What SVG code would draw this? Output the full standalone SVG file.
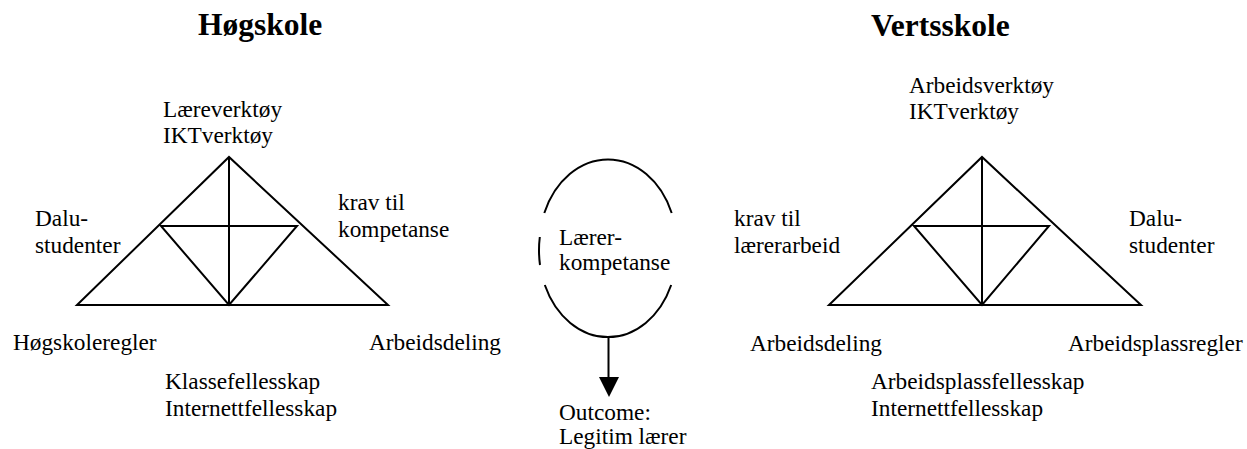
<svg xmlns="http://www.w3.org/2000/svg" width="1247" height="449" viewBox="0 0 1247 449">
<defs>
<style>
text{font-family:"Liberation Serif","Times New Roman",serif;font-size:23.3px;fill:#000}
.title{font-weight:bold;font-size:31.5px}
.ln{stroke:#000;stroke-width:2;fill:none}
</style>
</defs>
<rect width="1247" height="449" fill="#fff"/>
<g id="titles">
<text class="title" x="198" y="35">Høgskole</text>
<text class="title" x="871" y="36">Vertsskole</text>
</g>
<g id="triangle-left">
<path class="ln" d="M77,305 L229,157 L388,305 Z M229,157 L229,305 M161,226 L297,226 L229,305 Z"/>
</g>
<g id="triangle-right">
<path class="ln" d="M829,305 L982,157 L1141,305 Z M982,157 L982,305 M914,226 L1049,226 L982,305 Z"/>
</g>
<g id="labels-left">
<text x="163" y="117">Læreverktøy</text>
<text x="163" y="143">IKTverktøy</text>
<text x="35" y="226">Dalu-</text>
<text x="35" y="253">studenter</text>
<text x="338" y="210">krav til</text>
<text x="338" y="237">kompetanse</text>
<text x="13" y="350">Høgskoleregler</text>
<text x="369" y="350">Arbeidsdeling</text>
<text x="165" y="389">Klassefellesskap</text>
<text x="165" y="416">Internettfellesskap</text>
</g>
<g id="node-kompetanse">
<path class="ln" d="M544.3,213 A69,87 0 0 1 671.7,213 M544.8,285 A69,87 0 0 0 671.2,285 M539.8,237 A69,87 0 0 0 540,265"/>
<text x="559" y="245">Lærer-</text>
<text x="559" y="270">kompetanse</text>
</g>
<g id="node-outcome">
<text x="559" y="420">Outcome:</text>
<text x="559" y="444">Legitim lærer</text>
</g>
<g id="connectors">
<line class="ln" x1="608.5" y1="337" x2="608.5" y2="378"/>
<path d="M599,377 L619,377 L609,397 Z" fill="#000"/>
</g>
<g id="labels-right">
<text x="909" y="93">Arbeidsverktøy</text>
<text x="909" y="119">IKTverktøy</text>
<text x="734" y="226">krav til</text>
<text x="734" y="253">lærerarbeid</text>
<text x="1129" y="226">Dalu-</text>
<text x="1129" y="253">studenter</text>
<text x="750" y="351">Arbeidsdeling</text>
<text x="1068" y="351">Arbeidsplassregler</text>
<text x="871" y="389">Arbeidsplassfellesskap</text>
<text x="871" y="416">Internettfellesskap</text>
</g>
</svg>
